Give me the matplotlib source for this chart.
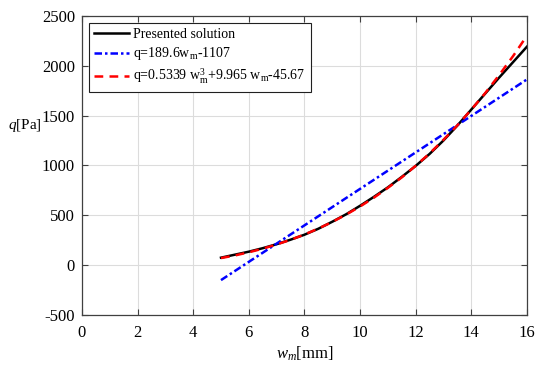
import matplotlib
matplotlib.use("Agg")
import matplotlib.pyplot as plt

# values
w_solution = [5, 5.5, 6, 6.5, 7, 7.5, 8, 8.5, 9, 9.5, 10, 10.5, 11, 11.5,
              12, 12.5, 13, 13.5, 14, 14.5, 15, 15.5, 16]
q_solution = [75, 105, 135, 170, 210, 255, 305, 365, 435, 510, 595, 685, 780,
              885, 995, 1115, 1250, 1400, 1560, 1720, 1880, 2035, 2190]
q_cubic = [71, 97, 129, 165, 207, 254, 307, 367, 433, 507, 588, 677, 775,
           880, 996, 1120, 1257, 1402, 1559, 1725, 1905, 2095, 2300]
w_linear = [5, 16]
q_linear = [-150, 1862]

x_ticks = [0, 2, 4, 6, 8, 10, 12, 14, 16]
y_ticks = [-500, 0, 500, 1000, 1500, 2000, 2500]

plt.rcParams["font.family"] = ["Liberation Serif", "DejaVu Serif"]
plt.rcParams["mathtext.fontset"] = "custom"
plt.rcParams["mathtext.rm"] = "Liberation Serif"
plt.rcParams["mathtext.it"] = "Liberation Serif:italic"
plt.rcParams["axes.unicode_minus"] = False

fig = plt.figure(figsize=(5.5, 3.68), dpi=100)
ax = fig.add_axes([0.149, 0.144, 0.809, 0.813])

ax.plot(w_solution, q_solution, color="black", linewidth=1.8,
        label="Presented solution")
ax.plot(w_linear, q_linear, color="blue", linewidth=1.8,
        linestyle=(0, (3.0, 1.2, 1.0, 1.2)),
        label=r"q=189.6w$_\mathrm{m}$-1107")
ax.plot(w_solution, q_cubic, color="red", linewidth=1.8,
        linestyle=(0, (3.5, 2.5)),
        label=r"q=0.5339 w$_\mathrm{m}^3$+9.965 w$_\mathrm{m}$-45.67")

ax.set_xlim(0, 16)
ax.set_ylim(-500, 2500)
ax.set_xticks(x_ticks)
ax.set_yticks(y_ticks)
ax.grid(True, color="#dcdcdc", linewidth=0.8)
ax.tick_params(direction="in", top=True, right=True, length=4,
               color="#404040", labelsize=12)
ax.tick_params(axis="x", pad=7)
ax.tick_params(axis="y", pad=5)
for spine in ax.spines.values():
    spine.set_color("#404040")
    spine.set_linewidth(0.9)

ax.set_xlabel(r"$w_m$[mm]", fontsize=12, labelpad=3)
ax.set_ylabel(r"$q$[Pa]", fontsize=11, rotation=0, ha="center", va="center")
ax.yaxis.set_label_coords(-0.128, 0.632)

leg = ax.legend(loc="upper left", fontsize=10, handlelength=2.5,
                fancybox=False, framealpha=1, borderaxespad=0.5,
                labelspacing=0.3, handletextpad=0.3, borderpad=0.4)
leg.get_frame().set_edgecolor("#202020")
leg.get_frame().set_linewidth(0.8)

fig.savefig("out.png", dpi=100)
